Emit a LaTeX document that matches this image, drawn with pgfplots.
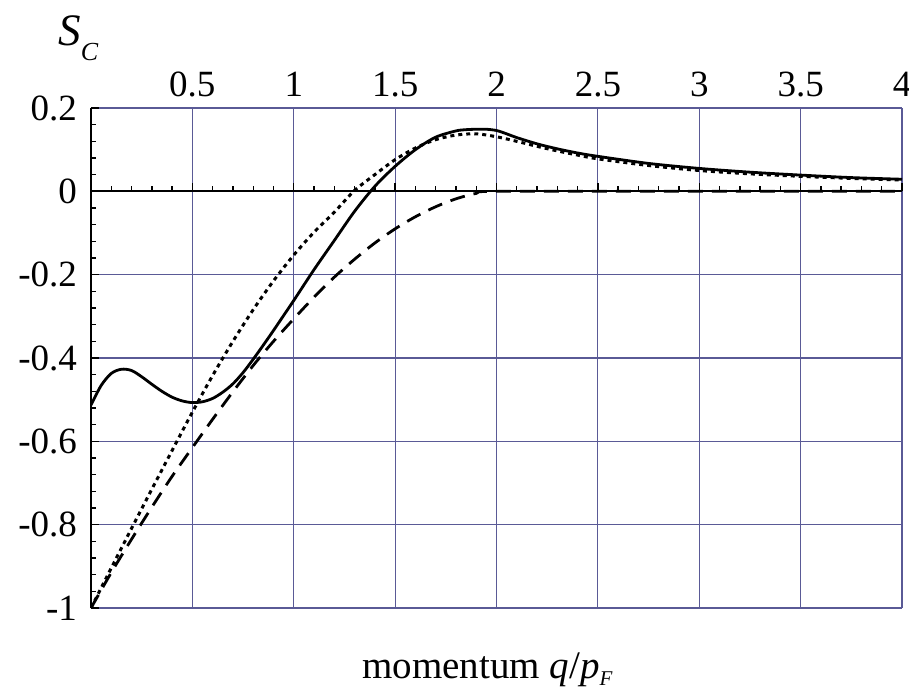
\documentclass[border=0pt]{standalone}
\usepackage{fontspec}
\setmainfont{Liberation Serif}
\usepackage{pgfplots}
\usepackage{pgfplotstable}
\pgfplotsset{compat=1.18}
\definecolor{gridblue}{RGB}{90,90,150}

% full solid curve
\pgfplotstableread{
q s
0.00 -0.513
0.05 -0.466
0.10 -0.437
0.15 -0.427
0.20 -0.430
0.25 -0.445
0.30 -0.463
0.35 -0.480
0.40 -0.494
0.45 -0.503
0.50 -0.507
0.55 -0.505
0.60 -0.497
0.65 -0.482
0.70 -0.462
0.75 -0.435
0.80 -0.403
0.85 -0.369
0.90 -0.334
0.95 -0.298
1.00 -0.262
1.10 -0.188
1.20 -0.118
1.30 -0.048
1.40  0.012
1.50  0.060
1.60  0.100
1.70  0.130
1.80  0.145
1.85  0.148
1.90  0.149
1.95  0.149
2.00  0.146
2.05  0.138
2.10  0.129
2.20  0.114
2.30  0.102
2.40  0.092
2.50  0.084
2.75  0.067
3.00  0.055
3.25  0.046
3.50  0.039
3.75  0.033
4.00  0.029
}\tabSolid

% dotted curve
\pgfplotstableread{
q s
0.0 -1.000
0.1 -0.904
0.2 -0.809
0.3 -0.715
0.4 -0.622
0.5 -0.530
0.6 -0.442
0.7 -0.360
0.8 -0.284
0.9 -0.215
1.0 -0.153
1.1 -0.098
1.2 -0.050
1.3  0.002
1.4  0.040
1.5  0.076
1.6  0.104
1.7  0.124
1.8  0.135
1.9  0.138
2.0  0.131
2.1  0.120
2.2  0.108
2.3  0.097
2.4  0.087
2.5  0.078
2.75 0.062
3.0  0.050
3.25 0.042
3.5  0.036
3.75 0.031
4.0  0.027
}\tabDot

% dashed curve
\pgfplotstableread{
q s
0.0 -1.000
0.1 -0.915
0.2 -0.835
0.3 -0.758
0.4 -0.684
0.5 -0.615
0.6 -0.547
0.7 -0.481
0.8 -0.418
0.9 -0.360
1.0 -0.306
1.1 -0.254
1.2 -0.206
1.3 -0.163
1.4 -0.124
1.5 -0.090
1.6 -0.061
1.7 -0.037
1.8 -0.018
1.9 -0.005
2.0  0.000
3.0  0.000
4.0  0.000
}\tabDash

\begin{document}
\begin{tikzpicture}
\useasboundingbox (-45.5pt,-45pt) rectangle (409pt,304pt);
\begin{axis}[
    at={(0,0)}, anchor=south west,
    scale only axis, width=405.5pt, height=250pt,
    xmin=0, xmax=4, ymin=-1, ymax=0.2,
    xtick={0.5,1,1.5,2,2.5,3,3.5,4},
    xticklabels={0.5,1,1.5,2,2.5,3,3.5,4},
    ytick={-1,-0.8,-0.6,-0.4,-0.2,0,0.2},
    yticklabels={-1,-0.8,-0.6,-0.4,-0.2,0,0.2},
    xticklabel pos=upper,
    grid=major,
    major grid style={gridblue, line width=0.6pt},
    axis line style={draw=none},
    major tick length=0pt,
    tick label style={font=\fontsize{18.5}{20}\selectfont},
    xticklabel style={yshift=2pt},
    yticklabel style={xshift=-3.5pt},
]
\addplot[black, line width=1.4pt, smooth] table {\tabSolid};
\addplot[black, line width=1.5pt, dash pattern=on 2pt off 2pt, smooth] table {\tabDot};
\addplot[black, line width=1.4pt, dash pattern=on 7.5pt off 4.5pt, smooth] table {\tabDash};
\end{axis}
\begin{axis}[
    at={(0,0)}, anchor=south west,
    scale only axis, width=405.5pt, height=250pt,
    xmin=0, xmax=4, ymin=-1, ymax=0.2,
    axis x line=middle, axis y line=left,
    axis line style={-, black, line width=0.9pt},
    xtick={0,0.5,1,1.5,2,2.5,3,3.5,4},
    ytick={-1,-0.8,-0.6,-0.4,-0.2,0,0.2},
    minor x tick num=4, minor y tick num=4,
    xticklabels={}, yticklabels={},
    tick style={black, line width=0.7pt},
    tick align=inside,
    major tick length=4pt, minor tick length=2.5pt,
]
\end{axis}
\node[anchor=base west, inner sep=0pt] at (-16.5pt,281.5pt)
  {\fontsize{22.5}{24}\selectfont\textit{S}\raisebox{-7.5pt}{\fontsize{13}{14}\selectfont\textit{C}}};
\node[anchor=base west, inner sep=0pt] at (135.5pt,-35pt)
  {\fontsize{19.5}{22}\selectfont momentum \textit{q}/\textit{p}\raisebox{-3.5pt}{\fontsize{10.5}{12}\selectfont\textit{F}}};
\end{tikzpicture}
\end{document}
